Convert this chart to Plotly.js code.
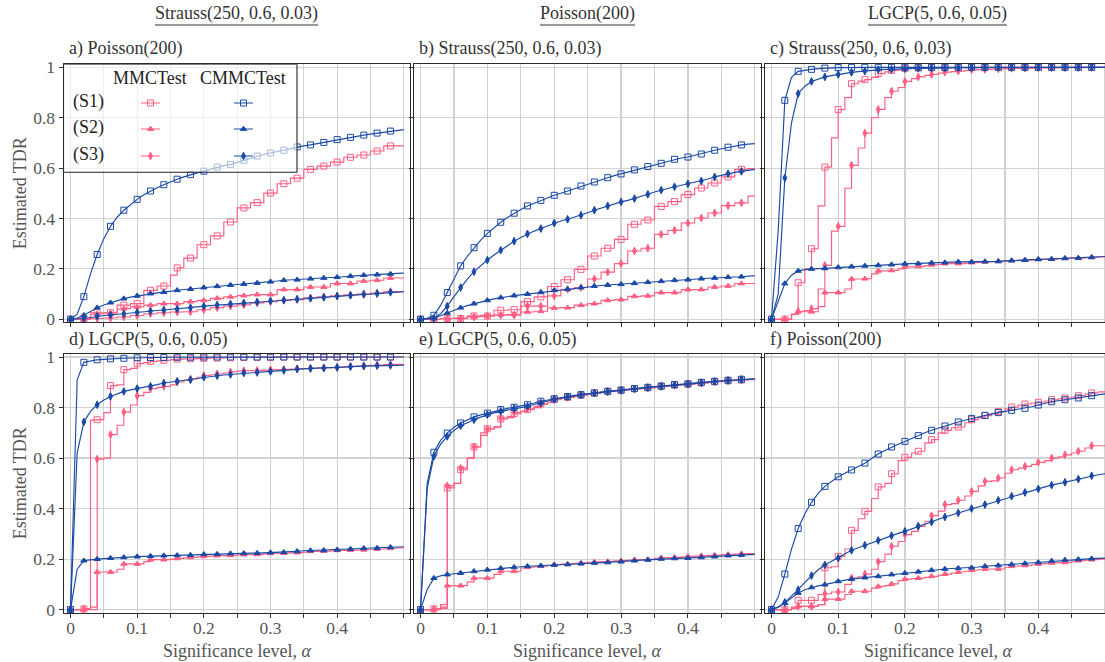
<!DOCTYPE html>
<html><head><meta charset="utf-8">
<script src="https://cdn.plot.ly/plotly-3.0.1.min.js"></script>
<style>html,body{margin:0;padding:0;overflow:hidden;background:#fff;width:1105px;height:662px}#chart{width:1112px;height:662px}</style>
</head><body><div id="chart"></div>
<script>
// ---------- data ----------
const alpha = [0,0.01,0.02,0.03,0.04,0.05,0.06,0.07,0.08,0.09,0.1,0.11,0.12,0.13,0.14,0.15,0.16,0.17,0.18,0.19,0.2,0.21,0.22,0.23,0.24,0.25,0.26,0.27,0.28,0.29,0.3,0.31,0.32,0.33,0.34,0.35,0.36,0.37,0.38,0.39,0.4,0.41,0.42,0.43,0.44,0.45,0.46,0.47,0.48,0.49,0.5];
const columnTitles = ['Strauss(250, 0.6, 0.03)', 'Poisson(200)', 'LGCP(5, 0.6, 0.05)'];
const panelTitles = ['a) Poisson(200)', 'b) Strauss(250, 0.6, 0.03)', 'c) Strauss(250, 0.6, 0.03)', 'd) LGCP(5, 0.6, 0.05)', 'e) LGCP(5, 0.6, 0.05)', 'f) Poisson(200)'];
const methods = ['MMCTest', 'CMMCTest'];
const scenarios = ['(S1)', '(S2)', '(S3)'];
const xTickVals = [0,0.05,0.1,0.15,0.2,0.25,0.3,0.35,0.4,0.45,0.5];
const xTickText = ['0','','0.1','','0.2','','0.3','','0.4','',''];
const yTickVals = [0,0.2,0.4,0.6,0.8,1];
const yTickText = ['0','0.2','0.4','0.6','0.8','1'];
const yTitle = 'Estimated TDR';
const xTitle = 'Significance level, <i>α</i>';

// panel a
const a_MMC_S1 = [0,0,0.003,0.026,0.026,0.026,0.026,0.056,0.056,0.062,0.062,0.115,0.115,0.132,0.132,0.175,0.204,0.243,0.243,0.296,0.296,0.331,0.331,0.386,0.386,0.442,0.442,0.463,0.463,0.501,0.501,0.538,0.538,0.56,0.56,0.595,0.595,0.608,0.608,0.624,0.624,0.643,0.643,0.652,0.652,0.668,0.668,0.688,0.688,0.688,0.688];
const a_MMC_S2 = [0,0,0,0.02,0.022,0.025,0.025,0.04,0.042,0.049,0.049,0.056,0.056,0.062,0.062,0.062,0.062,0.07,0.07,0.075,0.075,0.083,0.083,0.089,0.089,0.094,0.094,0.098,0.098,0.098,0.098,0.118,0.118,0.118,0.118,0.128,0.128,0.128,0.128,0.142,0.142,0.142,0.142,0.152,0.152,0.155,0.155,0.164,0.164,0.164,0.164];
const a_MMC_S3 = [0,0,0,0.003,0.003,0.005,0.005,0.009,0.009,0.015,0.015,0.022,0.022,0.026,0.026,0.029,0.029,0.03,0.03,0.038,0.038,0.046,0.046,0.052,0.052,0.057,0.057,0.065,0.065,0.07,0.07,0.075,0.075,0.078,0.078,0.085,0.085,0.089,0.089,0.093,0.093,0.097,0.097,0.1,0.1,0.104,0.104,0.11,0.11,0.11,0.11];
const a_CMM_S1 = [0,0.02,0.09,0.18,0.257,0.32,0.369,0.405,0.433,0.456,0.476,0.494,0.509,0.522,0.534,0.546,0.556,0.565,0.574,0.581,0.588,0.596,0.604,0.61,0.615,0.623,0.631,0.64,0.648,0.654,0.66,0.666,0.671,0.678,0.684,0.688,0.692,0.697,0.702,0.708,0.713,0.718,0.722,0.727,0.731,0.735,0.739,0.743,0.747,0.75,0.753];
const a_CMM_S2 = [0,0.005,0.016,0.032,0.046,0.057,0.066,0.075,0.082,0.088,0.093,0.098,0.102,0.105,0.108,0.112,0.115,0.118,0.12,0.123,0.126,0.129,0.131,0.134,0.136,0.138,0.14,0.142,0.144,0.147,0.149,0.152,0.155,0.156,0.157,0.159,0.161,0.163,0.164,0.166,0.167,0.169,0.171,0.173,0.175,0.176,0.177,0.179,0.18,0.182,0.183];
const a_CMM_S3 = [0,0.001,0.003,0.007,0.012,0.015,0.017,0.02,0.022,0.025,0.028,0.03,0.033,0.035,0.037,0.039,0.041,0.044,0.046,0.049,0.052,0.054,0.057,0.059,0.061,0.063,0.065,0.067,0.069,0.071,0.073,0.075,0.076,0.078,0.08,0.082,0.083,0.085,0.087,0.09,0.092,0.094,0.095,0.097,0.099,0.1,0.102,0.105,0.107,0.109,0.11];
// panel b
const b_MMC_S1 = [0,0,0,0.003,0.003,0.003,0.003,0.013,0.013,0.013,0.013,0.036,0.036,0.038,0.038,0.07,0.07,0.089,0.089,0.13,0.13,0.157,0.157,0.198,0.198,0.251,0.251,0.282,0.282,0.317,0.317,0.377,0.377,0.394,0.394,0.448,0.448,0.467,0.467,0.495,0.495,0.521,0.521,0.541,0.541,0.565,0.565,0.595,0.595,0.598,0.598];
const b_MMC_S2 = [0,0,0,0.003,0.003,0.005,0.005,0.012,0.012,0.016,0.016,0.018,0.018,0.02,0.02,0.029,0.029,0.032,0.032,0.045,0.045,0.046,0.046,0.056,0.056,0.062,0.062,0.075,0.075,0.078,0.078,0.091,0.091,0.093,0.093,0.106,0.106,0.106,0.106,0.118,0.118,0.118,0.118,0.128,0.128,0.132,0.132,0.142,0.142,0.142,0.142];
const b_MMC_S3 = [0,0,0,0.003,0.003,0.003,0.003,0.009,0.009,0.012,0.012,0.016,0.016,0.016,0.016,0.052,0.052,0.052,0.052,0.093,0.093,0.119,0.119,0.126,0.126,0.16,0.16,0.187,0.187,0.221,0.221,0.271,0.271,0.282,0.282,0.337,0.337,0.353,0.353,0.382,0.382,0.402,0.402,0.422,0.422,0.451,0.451,0.462,0.462,0.489,0.489];
const b_CMM_S1 = [0,0.004,0.016,0.055,0.106,0.16,0.212,0.25,0.284,0.314,0.341,0.364,0.385,0.404,0.421,0.436,0.45,0.461,0.472,0.482,0.492,0.5,0.509,0.519,0.529,0.537,0.545,0.554,0.562,0.57,0.577,0.585,0.593,0.6,0.606,0.612,0.619,0.627,0.635,0.64,0.644,0.65,0.656,0.664,0.671,0.677,0.683,0.688,0.692,0.695,0.697];
const b_CMM_S2 = [0,0.001,0.005,0.014,0.025,0.036,0.046,0.054,0.062,0.069,0.075,0.081,0.086,0.09,0.094,0.097,0.1,0.104,0.108,0.112,0.115,0.117,0.119,0.123,0.126,0.129,0.132,0.134,0.136,0.138,0.139,0.141,0.143,0.145,0.147,0.149,0.151,0.153,0.155,0.156,0.157,0.159,0.161,0.163,0.164,0.166,0.167,0.168,0.169,0.171,0.173];
const b_CMM_S3 = [0,0.001,0.003,0.022,0.052,0.09,0.126,0.159,0.189,0.213,0.235,0.255,0.274,0.292,0.31,0.325,0.339,0.35,0.36,0.371,0.382,0.39,0.397,0.405,0.413,0.423,0.433,0.442,0.45,0.458,0.466,0.472,0.479,0.488,0.496,0.505,0.513,0.52,0.526,0.532,0.538,0.543,0.549,0.557,0.565,0.572,0.578,0.583,0.587,0.591,0.595];
// panel c
const c_MMC_S1 = [0,0,0,0.02,0.145,0.2,0.28,0.45,0.604,0.72,0.832,0.88,0.935,0.945,0.951,0.96,0.975,0.982,0.988,0.99,0.995,0.996,0.997,0.997,0.998,0.998,0.998,0.999,0.999,0.999,0.999,1,1,1,1,1,1,1,1,1,1,1,1,1,1,1,1,1,1,1,1];
const c_MMC_S2 = [0,0,0,0.02,0.03,0.03,0.03,0.05,0.106,0.106,0.106,0.12,0.16,0.16,0.161,0.18,0.192,0.192,0.194,0.2,0.208,0.208,0.21,0.213,0.216,0.218,0.221,0.221,0.221,0.223,0.225,0.226,0.228,0.229,0.23,0.231,0.233,0.234,0.235,0.236,0.238,0.238,0.239,0.241,0.242,0.243,0.243,0.245,0.246,0.247,0.249];
const c_MMC_S3 = [0,0,0,0.02,0.032,0.035,0.042,0.12,0.214,0.35,0.369,0.52,0.611,0.68,0.739,0.8,0.833,0.88,0.905,0.92,0.944,0.955,0.962,0.968,0.972,0.977,0.981,0.983,0.985,0.988,0.99,0.991,0.992,0.993,0.994,0.995,0.996,0.996,0.997,0.997,0.998,0.998,0.998,0.999,0.999,0.999,0.999,1,1,1,1];
const c_CMM_S1 = [0,0.35,0.869,0.96,0.984,0.989,0.992,0.995,0.997,0.998,0.999,0.999,1,1,1,1,1,1,1,1,1,1,1,1,1,1,1,1,1,1,1,1,1,1,1,1,1,1,1,1,1,1,1,1,1,1,1,1,1,1,1];
const c_CMM_S2 = [0,0.07,0.142,0.175,0.192,0.197,0.2,0.201,0.202,0.204,0.206,0.208,0.209,0.211,0.212,0.213,0.214,0.216,0.217,0.219,0.22,0.221,0.221,0.223,0.224,0.225,0.225,0.227,0.228,0.228,0.228,0.229,0.229,0.23,0.23,0.232,0.233,0.234,0.235,0.237,0.238,0.239,0.239,0.241,0.242,0.243,0.243,0.245,0.246,0.248,0.249];
const c_CMM_S3 = [0,0.1,0.561,0.78,0.896,0.925,0.944,0.954,0.962,0.967,0.972,0.976,0.98,0.983,0.985,0.988,0.991,0.992,0.992,0.994,0.995,0.996,0.996,0.997,0.997,0.998,0.998,0.998,0.999,0.999,0.999,1,1,1,1,1,1,1,1,1,1,1,1,1,1,1,1,1,1,1,1];
// panel d
const d_MMC_S1 = [0,0,0.003,0.75,0.752,0.78,0.887,0.89,0.95,0.955,0.974,0.978,0.983,0.985,0.987,0.99,0.992,0.993,0.993,0.994,0.995,0.996,0.996,0.997,0.997,0.998,0.998,0.998,0.999,0.999,0.999,1,1,1,1,1,1,1,1,1,1,1,1,1,1,1,1,1,1,1,1];
const d_MMC_S2 = [0,0,0,0,0.149,0.149,0.149,0.16,0.181,0.181,0.181,0.19,0.198,0.198,0.198,0.2,0.203,0.205,0.207,0.209,0.211,0.212,0.214,0.214,0.215,0.217,0.218,0.218,0.219,0.221,0.223,0.223,0.224,0.225,0.226,0.228,0.231,0.231,0.232,0.233,0.235,0.235,0.236,0.236,0.237,0.239,0.24,0.241,0.243,0.244,0.245];
const d_MMC_S3 = [0,0,0.003,0.01,0.596,0.6,0.693,0.73,0.782,0.81,0.847,0.86,0.875,0.88,0.884,0.89,0.901,0.907,0.913,0.92,0.927,0.93,0.934,0.937,0.941,0.944,0.946,0.946,0.947,0.948,0.95,0.95,0.951,0.952,0.954,0.954,0.955,0.957,0.958,0.958,0.959,0.961,0.963,0.964,0.966,0.967,0.968,0.97,0.971,0.971,0.972];
const d_CMM_S1 = [0,0.91,0.979,0.985,0.989,0.991,0.993,0.994,0.995,0.996,0.997,0.997,0.998,0.998,0.998,0.999,0.999,0.999,0.999,0.999,1,1,1,1,1,1,1,1,1,1,1,1,1,1,1,1,1,1,1,1,1,1,1,1,1,1,1,1,1,1,1];
const d_CMM_S2 = [0,0.16,0.194,0.198,0.2,0.202,0.204,0.206,0.207,0.209,0.21,0.211,0.212,0.213,0.214,0.215,0.215,0.216,0.216,0.218,0.219,0.22,0.22,0.221,0.222,0.223,0.223,0.224,0.224,0.225,0.226,0.227,0.227,0.229,0.231,0.233,0.234,0.235,0.235,0.236,0.237,0.239,0.24,0.242,0.243,0.244,0.244,0.246,0.247,0.248,0.249];
const d_CMM_S3 = [0,0.62,0.743,0.785,0.811,0.83,0.844,0.855,0.864,0.87,0.875,0.88,0.884,0.891,0.897,0.901,0.904,0.907,0.91,0.915,0.92,0.923,0.926,0.929,0.931,0.934,0.937,0.938,0.939,0.941,0.943,0.945,0.947,0.95,0.952,0.954,0.955,0.956,0.956,0.958,0.959,0.961,0.962,0.963,0.964,0.965,0.966,0.967,0.967,0.968,0.968];
// panel e
const e_MMC_S1 = [0,0,0.003,0.02,0.482,0.5,0.554,0.6,0.644,0.7,0.716,0.72,0.755,0.76,0.776,0.785,0.792,0.8,0.815,0.82,0.831,0.836,0.84,0.845,0.849,0.853,0.857,0.86,0.864,0.867,0.869,0.872,0.875,0.876,0.878,0.881,0.884,0.886,0.889,0.891,0.893,0.896,0.898,0.9,0.902,0.904,0.906,0.907,0.909,0.91,0.91];
const e_MMC_S2 = [0,0,0,0.005,0.095,0.095,0.095,0.11,0.125,0.125,0.125,0.14,0.152,0.152,0.152,0.165,0.168,0.17,0.172,0.175,0.178,0.18,0.181,0.183,0.185,0.187,0.189,0.19,0.191,0.193,0.194,0.196,0.198,0.198,0.199,0.203,0.206,0.206,0.207,0.209,0.211,0.212,0.214,0.215,0.216,0.218,0.219,0.22,0.222,0.222,0.222];
const e_MMC_S3 = [0,0,0.003,0.01,0.49,0.5,0.56,0.6,0.645,0.69,0.715,0.725,0.758,0.765,0.78,0.785,0.795,0.805,0.812,0.822,0.833,0.837,0.842,0.846,0.85,0.854,0.857,0.861,0.864,0.866,0.869,0.871,0.874,0.876,0.879,0.881,0.884,0.886,0.889,0.891,0.893,0.895,0.898,0.9,0.903,0.905,0.907,0.908,0.91,0.911,0.912];
const e_CMM_S1 = [0,0.5,0.623,0.67,0.699,0.722,0.739,0.752,0.763,0.771,0.778,0.785,0.792,0.797,0.801,0.806,0.811,0.818,0.825,0.83,0.835,0.84,0.844,0.848,0.851,0.855,0.858,0.861,0.864,0.867,0.869,0.872,0.875,0.878,0.88,0.883,0.885,0.888,0.891,0.893,0.894,0.897,0.9,0.902,0.904,0.906,0.908,0.91,0.912,0.913,0.914];
const e_CMM_S2 = [0,0.08,0.125,0.134,0.139,0.142,0.145,0.149,0.152,0.155,0.158,0.161,0.164,0.166,0.168,0.17,0.172,0.173,0.174,0.176,0.177,0.178,0.179,0.181,0.182,0.184,0.185,0.186,0.187,0.189,0.19,0.192,0.194,0.196,0.197,0.199,0.201,0.202,0.203,0.204,0.204,0.206,0.207,0.209,0.21,0.212,0.214,0.215,0.216,0.218,0.219];
const e_CMM_S3 = [0,0.48,0.607,0.655,0.686,0.709,0.728,0.741,0.752,0.762,0.772,0.779,0.785,0.791,0.796,0.8,0.805,0.811,0.818,0.826,0.833,0.838,0.842,0.846,0.85,0.854,0.857,0.86,0.863,0.866,0.868,0.871,0.874,0.877,0.879,0.882,0.884,0.887,0.889,0.891,0.893,0.896,0.898,0.901,0.903,0.905,0.907,0.909,0.911,0.913,0.914];
// panel f
const f_MMC_S1 = [0,0,0,0.01,0.037,0.037,0.037,0.06,0.166,0.17,0.211,0.24,0.314,0.36,0.389,0.44,0.486,0.5,0.538,0.59,0.603,0.62,0.627,0.66,0.673,0.7,0.71,0.72,0.723,0.74,0.752,0.76,0.768,0.776,0.784,0.795,0.802,0.81,0.814,0.818,0.821,0.826,0.831,0.835,0.838,0.842,0.847,0.853,0.858,0.862,0.862];
const f_MMC_S2 = [0,0,0,0.005,0.013,0.013,0.013,0.02,0.042,0.042,0.042,0.06,0.073,0.073,0.073,0.085,0.092,0.095,0.102,0.115,0.121,0.123,0.125,0.128,0.132,0.137,0.141,0.145,0.149,0.152,0.156,0.158,0.161,0.161,0.161,0.168,0.172,0.173,0.175,0.178,0.181,0.183,0.185,0.186,0.187,0.191,0.194,0.196,0.198,0.2,0.2];
const f_MMC_S3 = [0,0,0,0.005,0.013,0.013,0.013,0.02,0.063,0.07,0.07,0.1,0.125,0.13,0.141,0.16,0.19,0.22,0.251,0.27,0.297,0.31,0.33,0.35,0.372,0.39,0.416,0.42,0.433,0.45,0.468,0.49,0.508,0.51,0.521,0.54,0.554,0.56,0.567,0.575,0.583,0.59,0.6,0.605,0.613,0.62,0.627,0.64,0.649,0.649,0.649];
const f_CMM_S1 = [0,0.05,0.141,0.24,0.321,0.38,0.425,0.46,0.488,0.508,0.526,0.54,0.553,0.566,0.58,0.598,0.616,0.63,0.644,0.655,0.666,0.678,0.689,0.7,0.71,0.719,0.727,0.735,0.743,0.75,0.757,0.763,0.769,0.775,0.78,0.785,0.789,0.793,0.797,0.803,0.81,0.817,0.823,0.827,0.831,0.835,0.838,0.843,0.847,0.851,0.854];
const f_CMM_S2 = [0,0.01,0.026,0.047,0.066,0.079,0.088,0.094,0.099,0.106,0.112,0.117,0.121,0.124,0.127,0.13,0.132,0.136,0.139,0.142,0.145,0.148,0.15,0.153,0.156,0.159,0.161,0.163,0.164,0.165,0.166,0.169,0.172,0.174,0.175,0.177,0.179,0.181,0.183,0.185,0.187,0.19,0.193,0.195,0.197,0.198,0.199,0.201,0.202,0.203,0.204];
const f_CMM_S3 = [0,0.01,0.029,0.053,0.079,0.108,0.135,0.158,0.177,0.191,0.204,0.22,0.235,0.245,0.255,0.265,0.274,0.284,0.293,0.302,0.31,0.32,0.33,0.339,0.347,0.357,0.367,0.375,0.383,0.392,0.4,0.408,0.416,0.425,0.433,0.441,0.449,0.457,0.464,0.471,0.478,0.486,0.493,0.499,0.504,0.51,0.517,0.524,0.53,0.534,0.538];

const panels = [
  {MMC:[a_MMC_S1,a_MMC_S2,a_MMC_S3], CMM:[a_CMM_S1,a_CMM_S2,a_CMM_S3]},
  {MMC:[b_MMC_S1,b_MMC_S2,b_MMC_S3], CMM:[b_CMM_S1,b_CMM_S2,b_CMM_S3]},
  {MMC:[c_MMC_S1,c_MMC_S2,c_MMC_S3], CMM:[c_CMM_S1,c_CMM_S2,c_CMM_S3]},
  {MMC:[d_MMC_S1,d_MMC_S2,d_MMC_S3], CMM:[d_CMM_S1,d_CMM_S2,d_CMM_S3]},
  {MMC:[e_MMC_S1,e_MMC_S2,e_MMC_S3], CMM:[e_CMM_S1,e_CMM_S2,e_CMM_S3]},
  {MMC:[f_MMC_S1,f_MMC_S2,f_MMC_S3], CMM:[f_CMM_S1,f_CMM_S2,f_CMM_S3]}
];
panels.forEach((p,k)=>{[...p.MMC,...p.CMM].forEach((s,j)=>{ if(s.length!==alpha.length) throw new Error('panel '+k+' series '+j+' length '+s.length); });});

// ---------- style / layout ----------
const W = 1112, H = 662;
const PINK = '#ff5f82', BLUE = '#1a4aa6';
const FONT = 'Liberation Serif, Times New Roman, serif';
const colX = [[63.5,409.8],[413.5,760.8],[764.5,1111]];
const rowY = [[64.3,322.3],[354,612.7]];
const symbols = ['square-open','triangle-up','diamond-tall'];
const msizes = [6, 5.5, 5.5];
const px = x => x / W, py = y => 1 - y / H;

const traces = [];
const layout = {
  width: W, height: H, margin: {l:0, r:0, t:0, b:0},
  paper_bgcolor: '#fff', plot_bgcolor: '#fff', showlegend: false,
  font: {family: FONT, color: '#444'},
  annotations: [], shapes: []
};
const markerIdx = alpha.map((_,i)=>i).filter(i => i % 2 === 0 && i < alpha.length - 1);

panels.forEach((p,k)=>{
  const c = k % 3, r = Math.floor(k / 3);
  const xa = k === 0 ? 'x' : 'x' + (k+1), ya = k === 0 ? 'y' : 'y' + (k+1);
  const axBase = {
    showline: true, mirror: true, linecolor: '#2a2a2a', linewidth: 1,
    ticks: 'outside', ticklen: 4, tickwidth: 1, tickcolor: '#333',
    showgrid: true, gridcolor: '#d2d2d2', gridwidth: 1.2, zeroline: false,
    tickfont: {family: FONT, size: 17.5, color: '#555'}, fixedrange: true
  };
  layout['xaxis' + (k ? k+1 : '')] = Object.assign({}, axBase, {
    domain: [px(colX[c][0]), px(colX[c][1])], anchor: ya, range: [-0.0105, 0.509],
    tickmode: 'array', tickvals: xTickVals, ticktext: xTickText, showticklabels: r === 1,
    ticklabelstandoff: -5
  });
  layout['yaxis' + (k ? k+1 : '')] = Object.assign({}, axBase, {
    domain: [py(rowY[r][1]), py(rowY[r][0])], anchor: xa, range: [-0.012, 1.012],
    tickmode: 'array', tickvals: yTickVals, ticktext: yTickText, showticklabels: c === 0
  });
  const groups = [['MMC', PINK, 'hv'], ['CMM', BLUE, 'linear']];
  groups.forEach(([key, col, shape])=>{
    [1,2,0].forEach(si=>{
      const ys = p[key][si];
      traces.push({x: alpha, y: ys, xaxis: xa, yaxis: ya, type: 'scatter', mode: 'lines',
        line: {color: col, width: 1.15, shape: shape}, hoverinfo: 'skip'});
      traces.push({x: markerIdx.map(i=>alpha[i]), y: markerIdx.map(i=>ys[i]), xaxis: xa, yaxis: ya,
        type: 'scatter', mode: 'markers', cliponaxis: false,
        marker: {symbol: symbols[si], size: msizes[si], color: col, line: {color: col, width: 1}}, hoverinfo: 'skip'});
    });
  });
  layout.annotations.push({xref:'paper', yref:'paper', x: px(colX[c][0] + 3), y: py(r ? 339 : 49),
    xanchor:'left', yanchor:'middle', showarrow:false, text: panelTitles[k],
    font:{family: FONT, size: 18, color: '#333'}});
  if (r === 1) {
    layout.annotations.push({xref:'paper', yref:'paper', x: px((colX[c][0]+colX[c][1])/2), y: py(651),
      xanchor:'center', yanchor:'middle', showarrow:false, text: xTitle,
      font:{family: FONT, size: 18, color: '#555'}});
  }
  if (c === 0) {
    layout.annotations.push({xref:'paper', yref:'paper', x: px(20), y: py((rowY[r][0]+rowY[r][1])/2),
      xanchor:'center', yanchor:'middle', showarrow:false, textangle: -90, text: yTitle,
      font:{family: FONT, size: 18, color: '#555'}});
  }
});

const colTitleAnn = columnTitles.map((t,c)=>({xref:'paper', yref:'paper', x: px((colX[c][0]+colX[c][1])/2), y: py(13),
  xanchor:'center', yanchor:'middle', showarrow:false, text: t, font:{family: FONT, size: 18, color: '#333'}}));
layout.annotations = colTitleAnn.concat(layout.annotations);

// ---------- legend in panel a (overlay axes in pixel units) ----------
layout.xaxis7 = {overlaying: 'x', anchor: 'y7', range: [colX[0][0], colX[0][1]], visible: false, fixedrange: true};
layout.yaxis7 = {overlaying: 'y', anchor: 'x7', range: [rowY[0][1], rowY[0][0]], visible: false, fixedrange: true};
const LB = {x0: 63.5, x1: 297, y0: 64.3, y1: 172.3};
traces.push({x:[LB.x0,LB.x1,LB.x1,LB.x0,LB.x0], y:[LB.y0,LB.y0,LB.y1,LB.y1,LB.y0], xaxis:'x7', yaxis:'y7',
  type:'scatter', mode:'lines', fill:'toself', fillcolor:'rgba(255,255,255,0.62)', line:{color:'#222', width:1.1}, hoverinfo:'skip'});
const legRows = [103, 129, 156];
const legCols = [[141,160,PINK],[234,253,BLUE]];
legCols.forEach(([x0,x1,col])=>{
  legRows.forEach((yy,si)=>{
    traces.push({x:[x0,x1], y:[yy,yy], xaxis:'x7', yaxis:'y7', type:'scatter', mode:'lines',
      line:{color:col, width:1.15}, hoverinfo:'skip', cliponaxis:false});
    traces.push({x:[(x0+x1)/2], y:[yy], xaxis:'x7', yaxis:'y7', type:'scatter', mode:'markers', cliponaxis:false,
      marker:{symbol:symbols[si], size:msizes[si], color:col, line:{color:col, width:1}}, hoverinfo:'skip'});
  });
});
methods.forEach((m,i)=>{
  layout.annotations.push({xref:'paper', yref:'paper', x: px(i ? 243 : 150), y: py(78), xanchor:'center', yanchor:'middle',
    showarrow:false, text:m, font:{family:FONT, size:18, color:'#222'}});
});
scenarios.forEach((s,i)=>{
  layout.annotations.push({xref:'paper', yref:'paper', x: px(71), y: py(legRows[i]-1.5), xanchor:'left', yanchor:'middle',
    showarrow:false, text:s, font:{family:FONT, size:18, color:'#222'}});
});

Plotly.newPlot('chart', traces, layout, {staticPlot: true}).then(gd=>{
  const gr = gd.getBoundingClientRect();
  const shapes = [];
  for (let i = 0; i < columnTitles.length; i++) {
    const g = gd.querySelector('g.annotation[data-index="' + i + '"] text');
    if (!g) continue;
    const rr = g.getBoundingClientRect();
    shapes.push({type:'line', xref:'paper', yref:'paper', x0: (rr.left-gr.left)/W, x1: (rr.right-gr.left)/W,
      y0: py(25), y1: py(25), line:{color:'#333', width:1.2}});
  }
  return Plotly.relayout(gd, {shapes});
});
</script>
</body></html>
